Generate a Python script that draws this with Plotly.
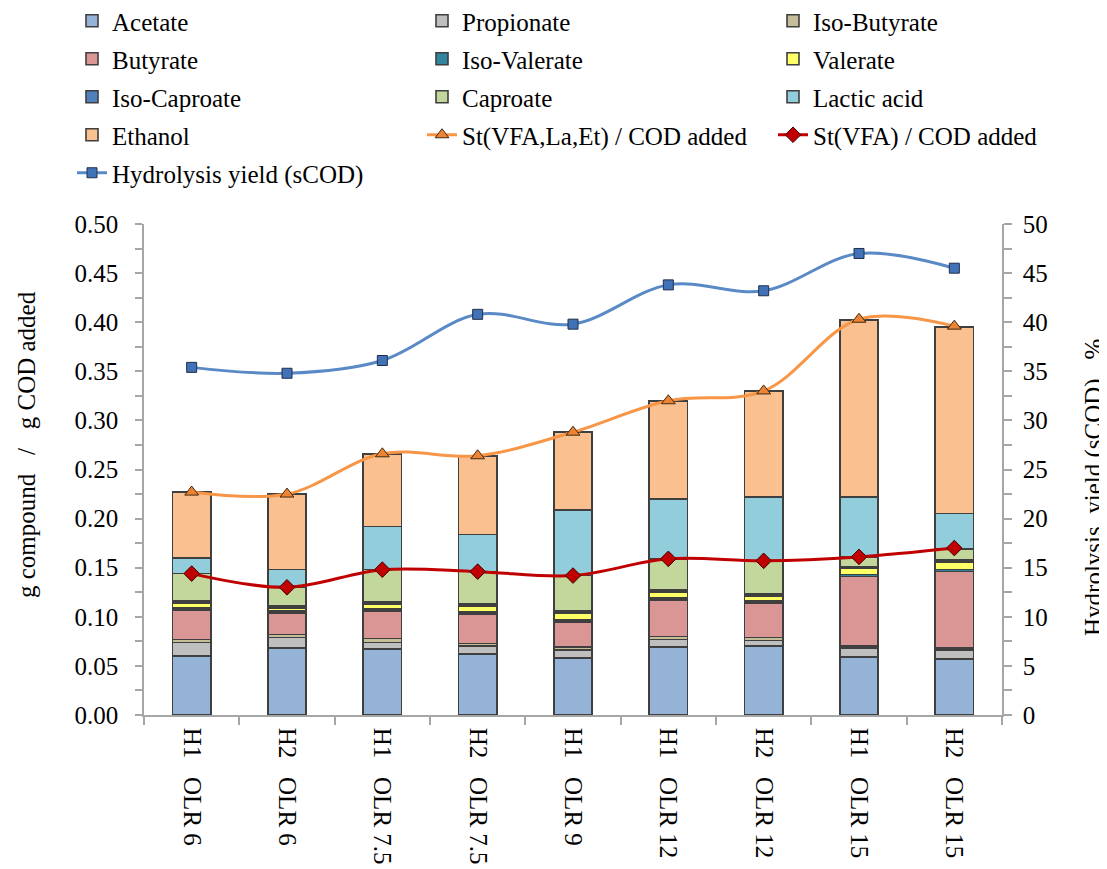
import plotly.graph_objects as go

categories = ["H1\u00a0\u00a0\u00a0OLR 6", "H2\u00a0\u00a0\u00a0OLR 6", "H1\u00a0\u00a0\u00a0OLR 7.5",
              "H2\u00a0\u00a0\u00a0OLR 7.5", "H1\u00a0\u00a0\u00a0OLR 9", "H1\u00a0\u00a0\u00a0OLR 12",
              "H2\u00a0\u00a0\u00a0OLR 12", "H1\u00a0\u00a0\u00a0OLR 15", "H2\u00a0\u00a0\u00a0OLR 15"]

acetate      = [0.060, 0.068, 0.067, 0.062, 0.058, 0.069, 0.070, 0.059, 0.057]
propionate   = [0.014, 0.011, 0.007, 0.008, 0.008, 0.008, 0.006, 0.009, 0.009]
iso_butyrate = [0.003, 0.003, 0.004, 0.003, 0.003, 0.003, 0.003, 0.002, 0.002]
butyrate     = [0.030, 0.022, 0.028, 0.030, 0.026, 0.037, 0.035, 0.071, 0.078]
iso_valerate = [0.002, 0.002, 0.002, 0.002, 0.002, 0.002, 0.002, 0.002, 0.002]
valerate     = [0.005, 0.003, 0.005, 0.006, 0.007, 0.006, 0.005, 0.006, 0.008]
iso_caproate = [0.002, 0.002, 0.002, 0.002, 0.002, 0.002, 0.002, 0.002, 0.002]
caproate     = [0.028, 0.019, 0.033, 0.033, 0.036, 0.032, 0.034, 0.010, 0.011]
lactic_acid  = [0.016, 0.018, 0.044, 0.038, 0.067, 0.061, 0.065, 0.061, 0.036]
ethanol      = [0.067, 0.077, 0.074, 0.080, 0.079, 0.100, 0.108, 0.180, 0.190]

st_vfa_la_et = [0.227, 0.225, 0.266, 0.264, 0.288, 0.320, 0.330, 0.403, 0.396]
st_vfa       = [0.144, 0.130, 0.148, 0.146, 0.142, 0.159, 0.157, 0.161, 0.170]
hydrolysis   = [35.4, 34.8, 36.1, 40.8, 39.8, 43.8, 43.2, 47.0, 45.5]

FONT = "Liberation Serif"
EDGE = "#3f3f3f"
AXC = "#a6a6a6"

# plot area in figure pixels
PL, PR, PT, PB = 136, 994, 216, 707
PW, PH = PR - PL, PB - PT

bars = [
    ("Acetate", acetate, "#95B3D7", "legend"),
    ("Propionate", propionate, "#BFBFBF", "legend2"),
    ("Iso-Butyrate", iso_butyrate, "#C4BD97", "legend3"),
    ("Butyrate", butyrate, "#D99694", "legend"),
    ("Iso-Valerate", iso_valerate, "#31859C", "legend2"),
    ("Valerate", valerate, "#FFFF66", "legend3"),
    ("Iso-Caproate", iso_caproate, "#4F81BD", "legend"),
    ("Caproate", caproate, "#C3D69B", "legend2"),
    ("Lactic acid", lactic_acid, "#92CDDC", "legend3"),
    ("Ethanol", ethanol, "#FAC090", "legend"),
]

fig = go.Figure()
for name, vals, col, lg in bars:
    fig.add_trace(go.Bar(
        x=categories, y=vals, name=name, legend=lg, legendgroup=name,
        marker=dict(color=col, line=dict(color=EDGE, width=1.6)),
        width=0.4,
    ))

fig.add_trace(go.Scatter(
    x=categories, y=st_vfa_la_et, name="St(VFA,La,Et) / COD added",
    legend="legend2", legendgroup="stall", mode="lines+markers",
    line=dict(color="#F79646", width=3, shape="spline", smoothing=1),
    marker=dict(symbol="triangle-up", size=12, color="#EE8433",
                line=dict(color="#3f2a10", width=1)),
))
fig.add_trace(go.Scatter(
    x=categories, y=st_vfa, name="St(VFA) / COD added",
    legend="legend3", legendgroup="stvfa", mode="lines+markers",
    line=dict(color="#C00000", width=3, shape="spline", smoothing=1),
    marker=dict(symbol="diamond", size=12, color="#C00000",
                line=dict(color="#400000", width=1)),
))
fig.add_trace(go.Scatter(
    x=categories, y=hydrolysis, name="Hydrolysis yield (sCOD)", yaxis="y2",
    legend="legend", legendgroup="hyd", mode="lines+markers",
    line=dict(color="#5A8AC6", width=3, shape="spline", smoothing=1),
    marker=dict(symbol="square", size=10, color="#4172B8",
                line=dict(color="#1f2f4a", width=1)),
))

LEG_TOP = 1 + (PT + 10) / PH
legend_common = dict(
    xref="paper", yref="paper", xanchor="left", yanchor="top", y=LEG_TOP,
    orientation="v", traceorder="grouped", tracegroupgap=2.5,
    bgcolor="rgba(0,0,0,0)", borderwidth=0,
    font=dict(family=FONT, size=25, color="black"),
)

fig.update_layout(
    width=1107, height=869,
    margin=dict(l=PL, r=1107 - PR, t=PT, b=869 - PB, autoexpand=False),
    paper_bgcolor="white", plot_bgcolor="white",
    barmode="stack",
    font=dict(family=FONT, size=25, color="black"),
    legend=dict(x=(64 - PL) / PW, **legend_common),
    legend2=dict(x=(414 - PL) / PW, **legend_common),
    legend3=dict(x=(765 - PL) / PW, **legend_common),
    xaxis=dict(
        type="category", range=[-0.5, 8.5], tickangle=90,
        showline=True, linecolor=AXC, linewidth=1.5,
        ticks="outside", tickson="boundaries", ticklen=8, tickcolor=AXC, tickwidth=1.5,
        showgrid=False, zeroline=False, automargin=False, ticklabelstandoff=6,
        tickfont=dict(family=FONT, size=25, color="black"),
    ),
    yaxis=dict(
        range=[0, 0.5], dtick=0.05, tickformat=".2f",
        showline=True, linecolor=AXC, linewidth=1.5,
        ticks="outside", ticklen=7, tickcolor=AXC, tickwidth=1.5,
        minor=dict(dtick=0.025, ticks="outside", ticklen=7, tickcolor=AXC, tickwidth=1.5),
        showgrid=False, zeroline=False, automargin=False, ticklabelstandoff=12,
        tickfont=dict(family=FONT, size=25, color="black"),
    ),
    yaxis2=dict(
        overlaying="y", side="right", range=[0, 50], dtick=5,
        showline=True, linecolor=AXC, linewidth=1.5,
        ticks="outside", ticklen=8, tickcolor=AXC, tickwidth=1.5,
        minor=dict(dtick=2.5, ticks="outside", ticklen=8, tickcolor=AXC, tickwidth=1.5),
        showgrid=False, zeroline=False, automargin=False, ticklabelstandoff=6,
        tickfont=dict(family=FONT, size=25, color="black"),
    ),
    annotations=[
        dict(text="g compound\u00a0\u00a0\u00a0/\u00a0\u00a0\u00a0g COD added", textangle=-90,
             xref="paper", yref="paper", x=(18 - PL) / PW, y=(PB - 437) / PH,
             xanchor="center", yanchor="middle", showarrow=False,
             font=dict(family=FONT, size=25, color="black")),
        dict(text="Hydrolysis\u00a0\u00a0yield (sCOD)\u00a0\u00a0\u00a0%", textangle=-90,
             xref="paper", yref="paper", x=(1086 - PL) / PW, y=(PB - 480) / PH,
             xanchor="center", yanchor="middle", showarrow=False,
             font=dict(family=FONT, size=25, color="black")),
    ],
)

fig.write_html("out.html")
